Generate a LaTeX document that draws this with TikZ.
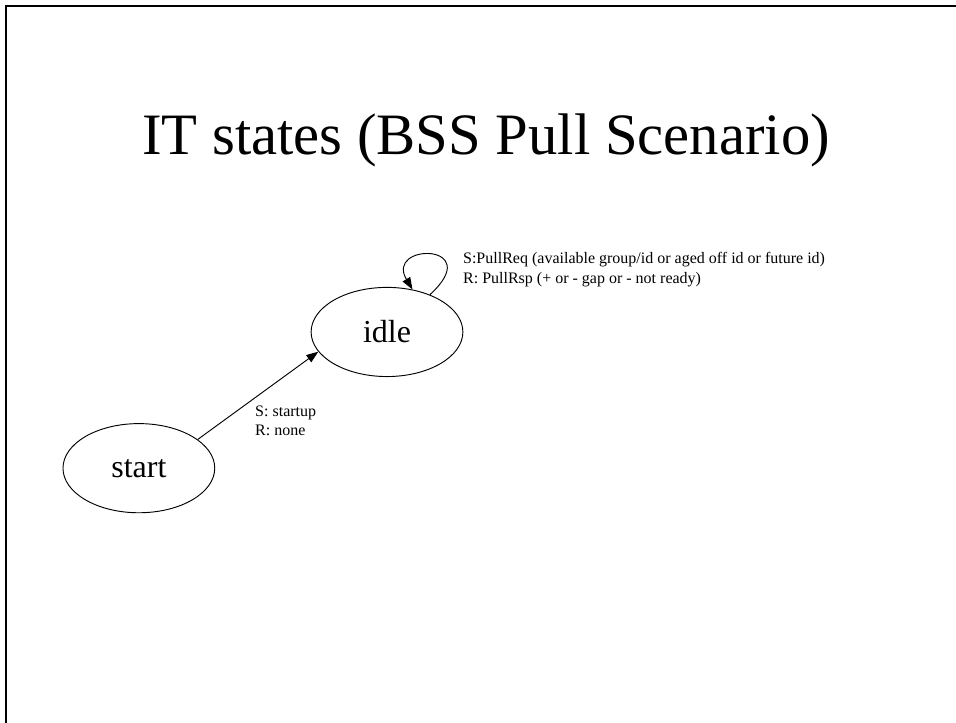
\documentclass[tikz,border=0pt]{standalone}
\usepackage{fontspec}
\setmainfont{Liberation Serif}
\usepackage{tikz}
\usetikzlibrary{arrows.meta, shapes.geometric}
\tikzset{
  statenode/.style={ellipse, draw, line width=0.7pt, inner sep=0pt, minimum width=4cm, minimum height=2.35cm, font=\fontsize{24}{28}\selectfont},
  edgelabel/.style={anchor=base west, align=left, inner sep=0pt, font=\fontsize{12}{14.4}\selectfont},
  trans/.style={line width=0.7pt, -{Triangle[length=9pt, width=6.5pt]}}
}

\begin{document}
\begin{tikzpicture}
\useasboundingbox (0,0) rectangle (25.197,19.03);
\draw[line width=1.5pt] (0.171,-0.5) -- (0.171,18.86) -- (25.7,18.86);
\node[anchor=base, font=\fontsize{44}{52}\selectfont] (title) at (12.81,14.97) {IT states (BSS Pull Scenario)};
\node[statenode] (start) at (3.66,6.69) {start};
\node[statenode] (idle) at (10.20,10.28) {idle};
\draw[trans] (start.26) -- (idle.196);
\node[edgelabel] (startlbl) at (6.72,7.55) {S: startup\\R: none};
\draw[trans] (idle.41) .. controls +(1.50,1.37) and +(-0.74,1.24) .. (idle.59);
\node[edgelabel] (looplbl) at (12.20,11.57) {S:PullReq (available group/id or aged off id or future id)\\R: PullRsp (+ or - gap or - not ready)};
\end{tikzpicture}
\end{document}
